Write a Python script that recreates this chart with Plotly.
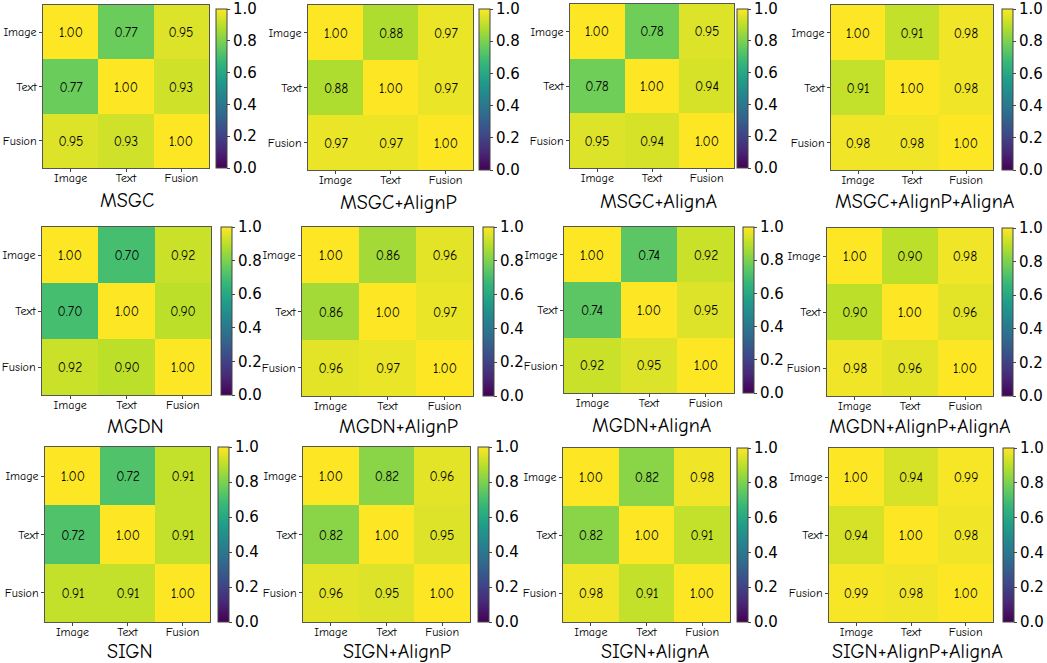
import plotly.graph_objects as go

labels = ["Image", "Text", "Fusion"]
titles = ["MSGC", "MSGC+AlignP", "MSGC+AlignA", "MSGC+AlignP+AlignA",
          "MGDN", "MGDN+AlignP", "MGDN+AlignA", "MGDN+AlignP+AlignA",
          "SIGN", "SIGN+AlignP", "SIGN+AlignA", "SIGN+AlignP+AlignA"]

msgc = [[1.00, 0.77, 0.95], [0.77, 1.00, 0.93], [0.95, 0.93, 1.00]]
msgc_p = [[1.00, 0.88, 0.97], [0.88, 1.00, 0.97], [0.97, 0.97, 1.00]]
msgc_a = [[1.00, 0.78, 0.95], [0.78, 1.00, 0.94], [0.95, 0.94, 1.00]]
msgc_pa = [[1.00, 0.91, 0.98], [0.91, 1.00, 0.98], [0.98, 0.98, 1.00]]
mgdn = [[1.00, 0.70, 0.92], [0.70, 1.00, 0.90], [0.92, 0.90, 1.00]]
mgdn_p = [[1.00, 0.86, 0.96], [0.86, 1.00, 0.97], [0.96, 0.97, 1.00]]
mgdn_a = [[1.00, 0.74, 0.92], [0.74, 1.00, 0.95], [0.92, 0.95, 1.00]]
mgdn_pa = [[1.00, 0.90, 0.98], [0.90, 1.00, 0.96], [0.98, 0.96, 1.00]]
sign = [[1.00, 0.72, 0.91], [0.72, 1.00, 0.91], [0.91, 0.91, 1.00]]
sign_p = [[1.00, 0.82, 0.96], [0.82, 1.00, 0.95], [0.96, 0.95, 1.00]]
sign_a = [[1.00, 0.82, 0.98], [0.82, 1.00, 0.91], [0.98, 0.91, 1.00]]
sign_pa = [[1.00, 0.94, 0.99], [0.94, 1.00, 0.98], [0.99, 0.98, 1.00]]

matrices = [msgc, msgc_p, msgc_a, msgc_pa, mgdn, mgdn_p, mgdn_a, mgdn_pa,
            sign, sign_p, sign_a, sign_pa]

cbar_ticks = [0.0, 0.2, 0.4, 0.6, 0.8, 1.0]

# layout in pixels: heatmap (x0, x1, y0, y1), colorbar (x0, y0), title (cx, cy)
W, H = 1047, 663
boxes = [
    (43, 209, 5, 168, 216, 9, 127, 200),
    (308, 473, 5, 170, 479, 9, 398, 202),
    (570, 734, 4, 168, 737, 9, 658, 201),
    (831, 993, 5, 170, 1002, 9, 925, 201),
    (42, 211, 227, 395, 221, 227, 135, 426),
    (302, 473, 227, 396, 483, 227, 398, 426),
    (564, 734, 227, 393, 743, 227, 652, 425),
    (827, 993, 228, 396, 1002, 228, 920, 426),
    (45, 210, 447, 622, 218, 447, 130, 651),
    (303, 470, 447, 622, 478, 447, 397, 651),
    (563, 730, 448, 622, 737, 448, 655, 651),
    (829, 993, 448, 622, 1003, 448, 917, 651),
]

FONT = "Comic Sans MS, Comic Neue, Noto Sans, sans-serif"

fig = go.Figure()
annotations = []
for i, (z, title, b) in enumerate(zip(matrices, titles, boxes)):
    x0, x1, y0, y1, cbx, cby, tcx, tcy = b
    k = "" if i == 0 else str(i + 1)
    fig.add_trace(go.Heatmap(
        z=z, x=labels, y=labels,
        xaxis="x" + k, yaxis="y" + k,
        colorscale="Viridis", zmin=0, zmax=1,
        texttemplate="%{z:.2f}",
        textfont=dict(family=FONT, size=13.5, color="black"),
        hoverinfo="skip",
        colorbar=dict(
            x=cbx / W, xanchor="left", xref="paper",
            y=1 - cby / H, yanchor="top", yref="paper",
            len=(y1 - cby) / H, lenmode="fraction",
            thickness=11, thicknessmode="pixels",
            xpad=0, ypad=0,
            outlinewidth=1, outlinecolor="#444",
            tickvals=cbar_ticks, tickformat=".1f",
            ticks="outside", ticklen=3, tickcolor="#444",
            ticklabeloverflow="allow",
            tickfont=dict(family="DejaVu Sans", size=15, color="black"),
        ),
    ))
    fig.layout["xaxis" + k] = dict(
        domain=[x0 / W, x1 / W], anchor="y" + k,
        showline=True, mirror=True, linecolor="#555", linewidth=1,
        ticks="outside", ticklen=3, tickcolor="#444",
        ticklabelstandoff=-4,
        tickfont=dict(family=FONT, size=12, color="black"),
        showgrid=False, zeroline=False, fixedrange=True,
    )
    fig.layout["yaxis" + k] = dict(
        domain=[1 - y1 / H, 1 - y0 / H], anchor="x" + k,
        autorange="reversed",
        showline=True, mirror=True, linecolor="#555", linewidth=1,
        ticks="outside", ticklen=3, tickcolor="#444",
        tickfont=dict(family=FONT, size=12, color="black"),
        showgrid=False, zeroline=False, fixedrange=True,
    )
    annotations.append(dict(
        text=title, x=tcx / W, y=1 - tcy / H, xref="paper", yref="paper",
        xanchor="center", yanchor="middle", showarrow=False,
        font=dict(family=FONT, size=20, color="black"),
    ))

fig.update_layout(
    width=W, height=H,
    margin=dict(l=0, r=0, t=0, b=0),
    paper_bgcolor="white", plot_bgcolor="white",
    annotations=annotations,
    showlegend=False,
)

fig.write_html(
    "out.html",
    config={"displayModeBar": False},
    post_script="document.body.style.margin='0';document.body.style.padding='0';",
)
